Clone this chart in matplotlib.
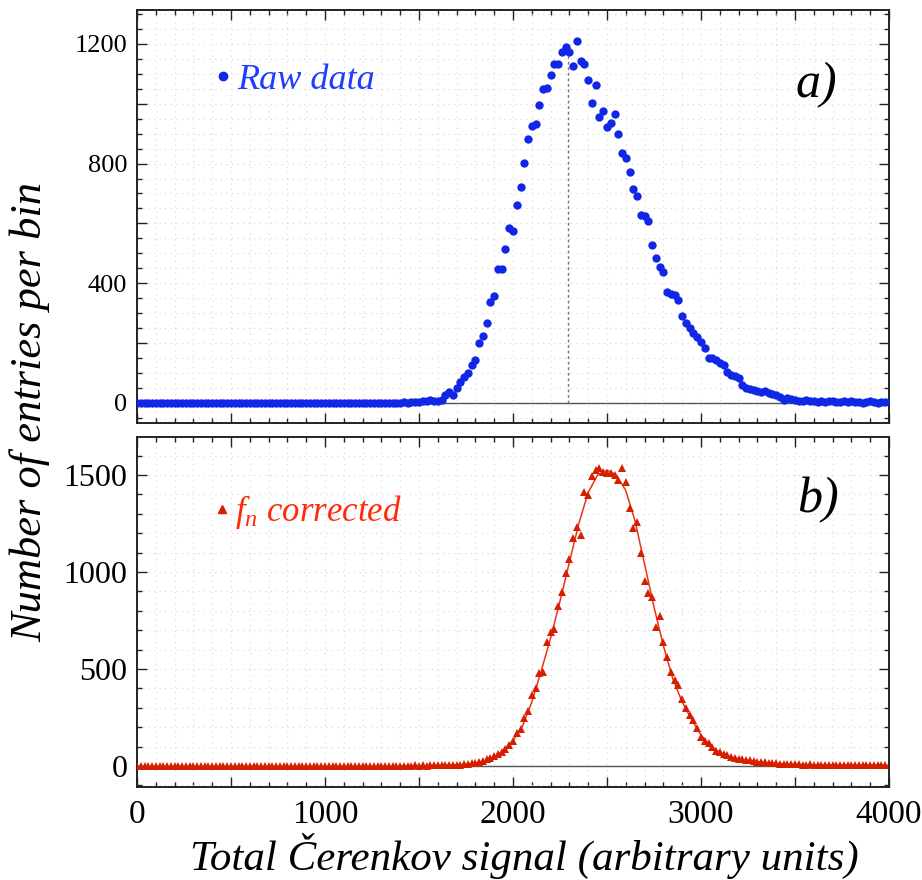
import numpy as np
import matplotlib
matplotlib.use("Agg")
import matplotlib.pyplot as plt
from matplotlib.ticker import MultipleLocator, FuncFormatter
from matplotlib.lines import Line2D

plt.rcParams["font.family"] = ["Liberation Serif", "DejaVu Serif"]
plt.rcParams["mathtext.fontset"] = "custom"
plt.rcParams["mathtext.it"] = "Liberation Serif:italic"
plt.rcParams["mathtext.rm"] = "Liberation Serif"

# --- data ---
bin_width = 20
n_bins = 200                        # 0 .. 3980
zero_bins = 70                      # 0 .. 1380 are empty

raw_tail = [
    1, 2, 0, 3, 4, 2, 6, 5, 9, 6, 8,                                  # 1400-1600
    10, 27, 38, 27, 49, 71, 88, 99, 127, 144, 202, 224, 266, 339, 359,  # 1620-1900
    447, 447, 514, 584, 573, 662, 723, 801, 883, 926, 932, 995, 1048,   # 1920-2160
    1054, 1097, 1132, 1132, 1174, 1191, 1174, 1126, 1209, 1142, 1131,   # 2180-2380
    1079, 1002, 1064, 957, 977, 921, 937, 966, 898, 834, 818, 772,      # 2400-2620
    714, 690, 628, 626, 609, 528, 484, 456, 436, 372, 365, 360, 344,    # 2640-2880
    291, 266, 250, 233, 222, 205, 183, 150, 150, 144, 135, 128, 105,    # 2900-3140
    94, 89, 83, 60, 49, 46, 43, 41, 38, 41, 32, 29, 27, 21, 10, 15,     # 3160-3460
    12, 10, 8, 6, 9, 5, 7, 4, 6, 3, 5, 8, 4, 2, 5, 3, 6, 2, 4, 1, 3,    # 3480-3880
    5, 2, 0, 3, 2,                                                     # 3900-3980
]
raw_counts = [0] * zero_bins + raw_tail

corr_tail = [
    1, 2, 1, 2, 3, 2, 3, 2, 4, 3, 4, 5, 4, 6, 5,                        # 1400-1680
    5, 7, 8, 10, 14, 17, 22, 28, 34, 40, 52, 62, 72, 90, 110, 128,      # 1700-2000
    168, 189, 246, 285, 366, 400, 477, 486, 641, 692, 704, 825, 898,    # 2020-2260
    993, 1065, 1173, 1233, 1190, 1410, 1397, 1493, 1525, 1534, 1517,   # 2280-2480
    1508, 1508, 1500, 1474, 1534, 1465, 1328, 1225, 1257, 1100, 954,   # 2500-2700
    891, 871, 718, 773, 640, 564, 486, 443, 418, 344, 297, 263, 237,   # 2720-2960
    194, 151, 130, 117, 96, 79, 70, 62, 57, 48, 42, 38, 34, 32, 31,    # 2980-3260
    25, 22, 20, 22, 18, 15, 14, 12, 10, 12, 9, 8, 10, 7, 6, 8, 5, 7,   # 3280-3620
    6, 4, 7, 5, 6, 3, 6, 4, 5, 7, 4, 6, 3, 5, 4, 6, 3, 5,              # 3640-3980
]
corr_counts = [0] * zero_bins + corr_tail

# fitted curve through the corrected histogram, every 50 units from 1400
fit_start, fit_step = 1400, 50
fit_values = [
    1, 1, 1, 2, 3, 4, 6, 9, 15, 28, 48, 80, 130, 205, 330, 490, 660, 850,   # 1400-2250
    1050, 1250, 1410, 1500, 1525, 1500, 1420, 1260, 1040, 820, 620, 450,    # 2300-2850
    330, 240, 160, 105, 70, 50, 37, 28, 22, 17, 13, 10, 8, 7, 6, 5, 5,      # 2900-3700
    5, 4, 4, 4, 4, 4, 4,                                                    # 3750-4000
]

raw_mean = 2293        # dotted line position in panel a)
raw_mean_top = 1190

x_bins = np.arange(n_bins) * bin_width
x_fit = fit_start + np.arange(len(fit_values)) * fit_step

blue = "#1028e6"
blue_txt = "#1f3cff"
red = "#d42000"
red_txt = "#ff2a0a"

fig = plt.figure(figsize=(9.22, 8.8), dpi=100)
ax1 = fig.add_axes([0.1486, 0.5193, 0.8156, 0.4693])
ax2 = fig.add_axes([0.1486, 0.1057, 0.8156, 0.3977])


def style_axes(ax, ymaj, ylab_step, ymin, lab_size, show_x):
    ax.set_xlim(0, 4000)
    ax.xaxis.set_major_locator(MultipleLocator(500))
    ax.xaxis.set_minor_locator(MultipleLocator(100))
    ax.yaxis.set_major_locator(MultipleLocator(ymaj))
    ax.yaxis.set_minor_locator(MultipleLocator(ymin))
    ax.yaxis.set_major_formatter(FuncFormatter(
        lambda v, p: f"{v:.0f}" if abs(v % ylab_step) < 1e-6 else ""))
    if show_x:
        ax.xaxis.set_major_formatter(FuncFormatter(
            lambda v, p: f"{v:.0f}" if abs(v % 1000) < 1e-6 else ""))
    else:
        ax.xaxis.set_major_formatter(FuncFormatter(lambda v, p: ""))
    ax.tick_params(which="both", direction="in", top=True, right=True,
                   width=1.0, color="#222222")
    ax.tick_params(which="major", length=7)
    ax.tick_params(which="minor", length=3.5)
    ax.tick_params(axis="y", labelsize=lab_size, pad=7)
    ax.tick_params(axis="x", labelsize=24, pad=9)
    for s in ax.spines.values():
        s.set_linewidth(1.4)
        s.set_color("#222222")
    ax.grid(which="minor", linestyle=(0, (1, 4)), color="#d8d8d8", linewidth=0.8)
    ax.grid(which="major", linestyle=(0, (1, 4)), color="#d8d8d8", linewidth=0.8)
    ax.set_axisbelow(True)
    ax.axhline(0, color="#555555", linewidth=1.0, zorder=1)


# --- a) raw data ---
style_axes(ax1, 200, 400, 50, 19, False)
ax1.set_ylim(-67, 1313)
ax1.vlines(raw_mean, 0, raw_mean_top, colors="#777777", linestyles=(0, (2, 2)),
           linewidth=1.0, zorder=2)
ax1.plot(x_bins, raw_counts, "o", color=blue, markersize=6,
         markeredgewidth=0, zorder=3)
h1 = Line2D([], [], marker="o", linestyle="none", color=blue, markersize=6)
leg1 = ax1.legend([h1], ["Raw data"], loc="center left",
                  bbox_to_anchor=(0.057, 0.83), frameon=False,
                  handlelength=0.6, handletextpad=0.1,
                  prop={"family": "Liberation Serif", "style": "italic", "size": 26})
for t in leg1.get_texts():
    t.set_color(blue_txt)
ax1.text(0.904, 0.818, "a)", transform=ax1.transAxes, fontsize=36,
         style="italic", ha="center", va="center")

# --- b) f_n corrected ---
style_axes(ax2, 500, 500, 100, 23, True)
ax2.set_ylim(-108, 1696)
ax2.plot(x_fit, fit_values, "-", color="#f03018", linewidth=1.1, zorder=2)
ax2.plot(x_bins, corr_counts, "^", color=red, markersize=6,
         markeredgewidth=0, zorder=3)
h2 = Line2D([], [], marker="^", linestyle="none", color=red, markersize=6)
leg2 = ax2.legend([h2], ["$f_n$ corrected"], loc="center left",
                  bbox_to_anchor=(0.057, 0.785), frameon=False,
                  handlelength=0.6, handletextpad=0.1,
                  prop={"family": "Liberation Serif", "style": "italic", "size": 25})
for t in leg2.get_texts():
    t.set_color(red_txt)
ax2.text(0.906, 0.82, "b)", transform=ax2.transAxes, fontsize=36,
         style="italic", ha="center", va="center")

ax2.set_xlabel("Total Čerenkov signal (arbitrary units)", fontsize=31,
               style="italic", labelpad=2)
ax2.xaxis.label.set_x(0.515)
fig.text(0.033, 0.532, "Number of entries per bin", rotation=90, fontsize=32,
         style="italic", ha="center", va="center")

fig.savefig("out.png", dpi=100, facecolor="white")
